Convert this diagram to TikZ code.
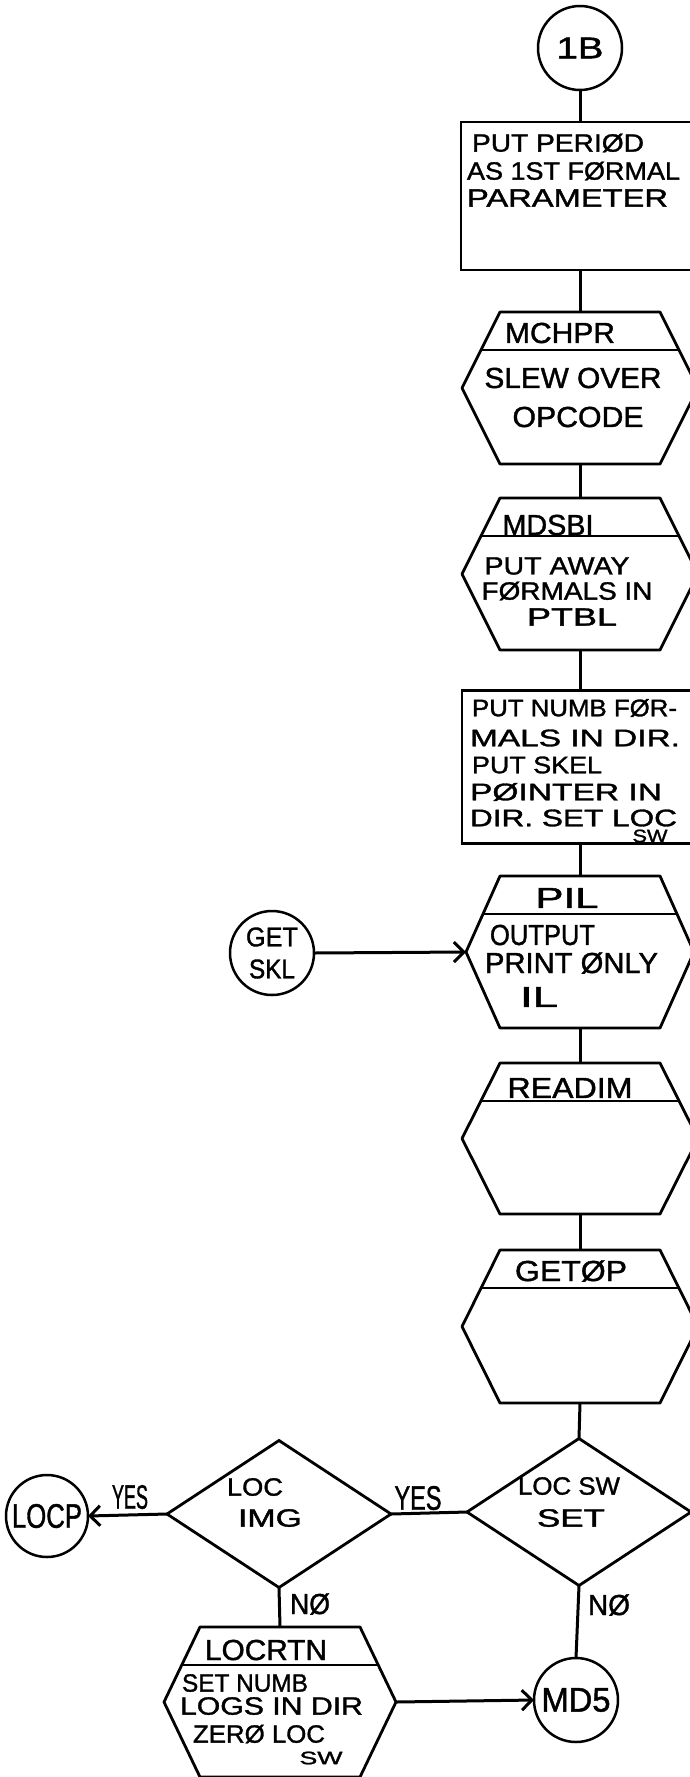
\documentclass[tikz,border=0pt]{standalone}
\usepackage{fontspec}
\setmainfont{Liberation Sans}[FakeBold=1.3]
\usepackage{graphicx}
\usetikzlibrary{shapes.geometric,arrows.meta,calc}
\newcommand\T[2]{\resizebox{#1pt}{\height}{#2}}
\tikzset{
  stroke/.style={draw=black, line width=2.8pt, line join=round},
  hexfit/.style={rectangle, inner sep=0pt, outer sep=0pt, draw=none},
  boxst/.style={rectangle, draw=black, line width=2.8pt, inner sep=0pt, outer sep=0pt},
  circst/.style={circle, draw=black, line width=2.5pt, inner sep=0pt, outer sep=0pt, minimum size=84pt, align=center},
  dia/.style={diamond, draw=black, line width=2.8pt, inner sep=0pt, outer sep=0pt, minimum width=224pt, minimum height=147pt},
  txt/.style={inner sep=0pt, outer sep=0pt, font=\fontsize{29pt}{32pt}\selectfont},
  midtxt/.style={inner sep=0pt, outer sep=0pt, font=\fontsize{25pt}{28pt}\selectfont},
  boxtxt/.style={inner sep=0pt, outer sep=0pt, font=\fontsize{24pt}{27pt}\selectfont},
  bigtxt/.style={inner sep=0pt, outer sep=0pt, font=\fontsize{34pt}{36pt}\selectfont},
  smalltxt/.style={inner sep=0pt, outer sep=0pt, font=\fontsize{18pt}{20pt}\selectfont},
  conn/.style={draw=black, line width=3pt},
  arr/.style={conn, -{Straight Barb[length=10pt,width=20pt]}},
}
% #1 name, #2 cx, #3 top y, #4 height, #5 half width at middle
\newcommand\myhex[5]{%
  \node[hexfit, minimum width={2*#5*1pt}, minimum height={#4*1pt}] (#1) at (#2,{#3+#4/2}) {};
  \draw[stroke] ($(#1.north)+(-80,0)$) -- ($(#1.north)+(80,0)$) -- (#1.east)
     -- ($(#1.south)+(80,0)$) -- ($(#1.south)+(-80,0)$) -- (#1.west) -- cycle;
  \pgfmathsetmacro\hexdw{80+(#5-80)*38/(#4/2)}%
  \draw[stroke] ($(#1.north)+(-\hexdw,38)$) -- ($(#1.north)+(\hexdw,38)$);
}
\begin{document}
\begin{tikzpicture}[x=1pt,y=-1pt]
\fill[white] (0,0) rectangle (690,1777);
\useasboundingbox (0,0) rectangle (690,1777);

% ---- shapes ----
\node[circst, font=\fontsize{30pt}{30pt}\selectfont] (c1b) at (580,48) {\T{47}{1B}};
\node[boxst, minimum width=238pt, minimum height=148pt] (box1) at (580,196) {};
\myhex{mchpr}{580}{312}{152}{118}
\myhex{mdsbi}{580}{498}{152}{118}
\node[boxst, minimum width=236pt, minimum height=153pt] (box2) at (580,767) {};
\myhex{pil}{580}{876}{152}{114}
\myhex{readim}{580}{1063}{151}{118}
\myhex{getop}{580}{1250}{153}{118}
\node[dia] (locsw) at (579,1512) {};
\node[dia] (locimg) at (279,1514) {};
\myhex{locrtn}{280}{1627}{150}{116}

\node[circst, font=\fontsize{27pt}{32pt}\selectfont] (getskl) at (272,953) {\T{52}{GET}\\\T{46}{SKL}};
\node[circst, minimum size=82pt, font=\fontsize{34pt}{36pt}\selectfont] (locp) at (47,1516) {\T{70}{LOCP}};
\node[circst, font=\fontsize{34pt}{36pt}\selectfont] (md5) at (576,1700) {\T{69}{MD5}};

% ---- connectors ----
\draw[conn] (c1b) -- (box1);
\draw[conn] (box1.south) -- (mchpr.north);
\draw[conn] (mchpr.south) -- (mdsbi.north);
\draw[conn] (mdsbi.south) -- (box2.north);
\draw[conn] (box2.south) -- (pil.north);
\draw[conn] (pil.south) -- (readim.north);
\draw[conn] (readim.south) -- (getop.north);
\draw[conn] (getop.south) -- (locsw.north);
\draw[arr] (getskl.east) -- (pil.west);
\draw[conn] (locsw.west) -- (locimg.east);
\draw[arr] (locimg.west) -- (locp.east);
\draw[conn] (locimg.south) -- (locrtn.north);
\draw[conn] (locsw.south) -- (md5.north);
\draw[arr] (locrtn.east) -- (md5.west);

% ---- texts ----
\node[midtxt, anchor=west] (b1a) at (472,143) {\T{172}{PUT PERIØD}};
\node[midtxt, anchor=west] (b1b) at (467,171) {\T{213}{AS 1ST FØRMAL}};
\node[midtxt, anchor=west] (b1c) at (467,198) {\T{201}{PARAMETER}};

\node[txt] (m1) at (560,333) {\T{110}{MCHPR}};
\node[txt] (m2) at (573,378) {\T{177}{SLEW OVER}};
\node[txt] (m3) at (578,417) {\T{131}{OPCODE}};

\node[txt] (d1) at (548,525) {\T{91}{MDSBI}};
\node[midtxt] (d2) at (557,566) {\T{145}{PUT AWAY}};
\node[midtxt] (d3) at (567,591) {\T{171}{FØRMALS IN}};
\node[midtxt] (d4) at (572,617) {\T{90}{PTBL}};

\node[boxtxt, anchor=west] (b2a) at (472,708) {\T{205}{PUT NUMB FØR-}};
\node[boxtxt, anchor=west] (b2b) at (470,738) {\T{210}{MALS IN DIR.}};
\node[boxtxt, anchor=west] (b2c) at (472,765) {\T{130}{PUT SKEL}};
\node[boxtxt, anchor=west] (b2d) at (470,792) {\T{192}{PØINTER IN}};
\node[boxtxt, anchor=west] (b2e) at (470,818) {\T{207}{DIR. SET LOC}};
\node[smalltxt] (b2f) at (650,836) {\T{35}{SW}};

\node[txt] (p1) at (567,898) {\T{63}{PIL}};
\node[txt, anchor=west] (p2) at (490,935) {\T{105}{OUTPUT}};
\node[txt, anchor=west] (p3) at (485,963) {\T{173}{PRINT ØNLY}};
\node[txt, anchor=west] (p4) at (520,997) {\T{38}{IL}};

\node[txt] (r1) at (570,1088) {\T{125}{READIM}};
\node[txt] (g1) at (571,1271) {\T{112}{GETØP}};

\node[midtxt] (s1) at (569,1486) {\T{102}{LOC SW}};
\node[midtxt] (s2) at (571,1518) {\T{68}{SET}};
\node[midtxt] (i1) at (255,1487) {\T{56}{LOC}};
\node[midtxt] (i2) at (270,1518) {\T{64}{IMG}};

\node[bigtxt] (y1) at (130,1497) {\T{36}{YES}};
\node[bigtxt] (y2) at (418,1498) {\T{47}{YES}};
\node[txt] (n1) at (310,1604) {\T{40}{NØ}};
\node[txt] (n2) at (609,1605) {\T{42}{NØ}};

\node[txt] (l1) at (266,1650) {\T{122}{LOCRTN}};
\node[midtxt, anchor=west] (l2) at (182,1683) {\T{126}{SET NUMB}};
\node[midtxt, anchor=west] (l3) at (180,1706) {\T{183}{LOGS IN DIR}};
\node[midtxt, anchor=west] (l4) at (193,1734) {\T{132}{ZERØ LOC}};
\node[smalltxt] (l5) at (321,1758) {\T{43}{SW}};
\end{tikzpicture}
\end{document}
